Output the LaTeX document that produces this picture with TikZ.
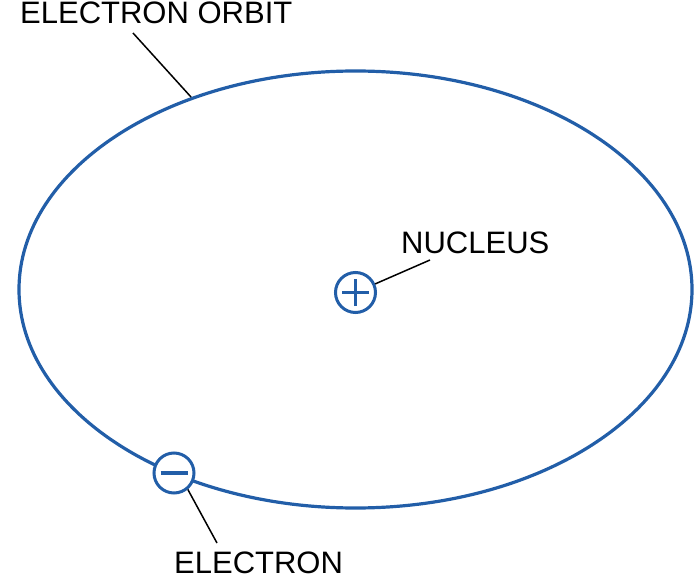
\documentclass[tikz,border=0pt]{standalone}
\usepackage{fontspec}
\setmainfont{Liberation Sans}
\definecolor{orbitblue}{RGB}{34,94,168}
\tikzset{
    charge/.style={circle, draw=orbitblue, fill=white, line width=3pt, minimum size=40pt, inner sep=0pt},
    sign/.style={orbitblue, line width=3.2pt},
    tag/.style={anchor=base west, inner sep=0pt, font=\fontsize{31}{37}\selectfont},
    leader/.style={black, line width=1.5pt}
}
\begin{document}
\begin{tikzpicture}[x=1pt, y=-1pt]
    \useasboundingbox (0,0) rectangle (697,586);
    \draw[orbitblue, line width=3.2pt] (355.5,289.5) ellipse [x radius=336.5pt, y radius=218.5pt];
    \node[charge] (nucleus) at (355.5,292.5) {};
    \node[charge] (electron) at (174,473) {};
    \draw[sign] ([xshift=-13.5pt]nucleus.center) -- ([xshift=13.5pt]nucleus.center);
    \draw[sign] ([yshift=-13.5pt]nucleus.center) -- ([yshift=13.5pt]nucleus.center);
    \draw[sign] ([xshift=-13.5pt]electron.center) -- ([xshift=13.5pt]electron.center);
    \node[tag] (orbitlabel) at (20,24) {ELECTRON ORBIT};
    \node[tag] (nucleuslabel) at (401,253) {NUCLEUS};
    \node[tag] (electronlabel) at (174,573) {ELECTRON};
    \coordinate (orbitpt) at (191,97);
    \coordinate (orbittail) at (133,33);
    \coordinate (nucleustail) at (430,260);
    \coordinate (electrontail) at (217,543);
    \draw[leader] (orbittail) -- (orbitpt);
    \draw[leader] (nucleus) -- (nucleustail);
    \draw[leader] (electron.-50) -- (electrontail);
\end{tikzpicture}
\end{document}
